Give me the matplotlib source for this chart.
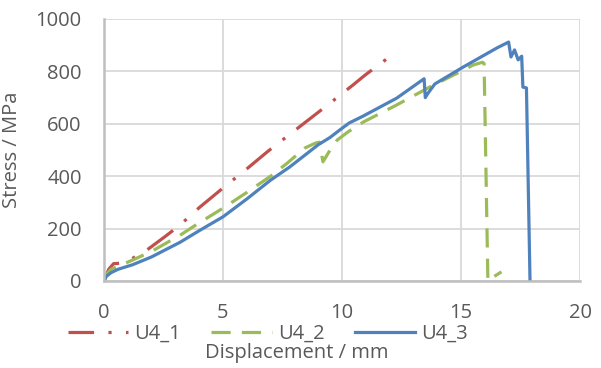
import matplotlib
matplotlib.use("Agg")
import matplotlib.pyplot as plt

plt.rcParams['font.family'] = ['Open Sans', 'DejaVu Sans']

# U4_1 (red, dash-dot)
u41_x = [0, 0.2, 0.4, 0.7, 1.0, 1.3, 1.8, 2.6, 3.2, 4.0, 5.0, 6.0, 6.9, 8.15, 9.5, 10.46, 10.97, 11.93]
u41_y = [0, 45, 66, 68, 75, 92, 118, 172, 214, 280, 355, 428, 496, 584, 679, 748, 786, 851]

# U4_2 (green, dashed)
u42_x = [0, 0.1, 0.3, 0.7, 1.2, 2.0, 3.2, 4.0, 5.0, 6.0, 7.0, 7.7, 8.45, 8.9, 9.05, 9.2, 9.5, 9.8,
         10.25, 10.9, 12.3, 13.7, 15.1, 15.5, 15.9, 15.97, 16.13, 16.3, 16.7]
u42_y = [0, 25, 45, 60, 80, 113, 175, 222, 278, 338, 400, 450, 508, 527, 530, 455, 500, 538,
         569, 607, 672, 741, 805, 824, 835, 830, 0, 12, 35]

# U4_3 (blue, solid)
u43_x = [0, 0.1, 0.3, 0.6, 1.2, 2.0, 3.2, 4.0, 5.0, 6.0, 7.0, 7.8, 9.0, 9.5, 9.9, 10.3, 10.9, 12.3,
         13.45, 13.5, 13.6, 13.9, 15.1, 16.5, 17.0, 17.1, 17.25, 17.4, 17.55, 17.6, 17.75, 17.9]
u43_y = [0, 18, 32, 45, 62, 92, 148, 192, 245, 313, 385, 435, 520, 548, 576, 603, 630, 698,
         772, 700, 715, 752, 817, 889, 912, 855, 882, 844, 858, 740, 737, 0]

labels = ['U4_1', 'U4_2', 'U4_3']
x_ticks = [0, 5, 10, 15, 20]
y_ticks = [0, 200, 400, 600, 800, 1000]

fs = 14.5
fig = plt.figure(figsize=(6.01, 3.68), dpi=100)
ax = fig.add_axes([104/601, 1-281/368, (580-104)/601, (281-19)/368])

lw = 2.3
ax.plot(u41_x, u41_y, color='#c0504d', lw=lw, linestyle=(2, (10, 4.5, 1, 4.5)), label=labels[0],
        solid_joinstyle='round')
ax.plot(u42_x, u42_y, color='#9bbb59', lw=lw, linestyle=(0, (6, 3.5)), label=labels[1])
ax.plot(u43_x, u43_y, color='#4f81bd', lw=lw, label=labels[2], solid_joinstyle='round')

ax.set_xlim(0, 20)
ax.set_ylim(0, 1000)
ax.set_xticks(x_ticks)
ax.set_yticks(y_ticks)
ax.grid(True, color='#d9d9d9', lw=1.3)
ax.set_axisbelow(True)
for s in ['top', 'right']:
    ax.spines[s].set_visible(False)
for s in ['left', 'bottom']:
    ax.spines[s].set_color('#bfbfbf')
    ax.spines[s].set_linewidth(1.8)
ax.tick_params(axis='both', length=0, labelsize=fs, colors='#595959')
ax.tick_params(axis='x', pad=16)
ax.tick_params(axis='y', pad=16)

ax.set_ylabel('Stress / MPa', fontsize=fs, color='#595959')
ax.yaxis.set_label_coords((22-104)/476, 0.5)
fig.text(297/601, 1-353/368, 'Displacement / mm', fontsize=fs, color='#595959',
         ha='center', va='center')

leg = fig.legend(loc='center', bbox_to_anchor=(268/601, 1-334/368), ncol=3, frameon=False,
                 fontsize=fs, handlelength=3.0, columnspacing=1.5, handletextpad=0.3,
                 labelcolor='#595959')

fig.savefig('out.png', dpi=100)
